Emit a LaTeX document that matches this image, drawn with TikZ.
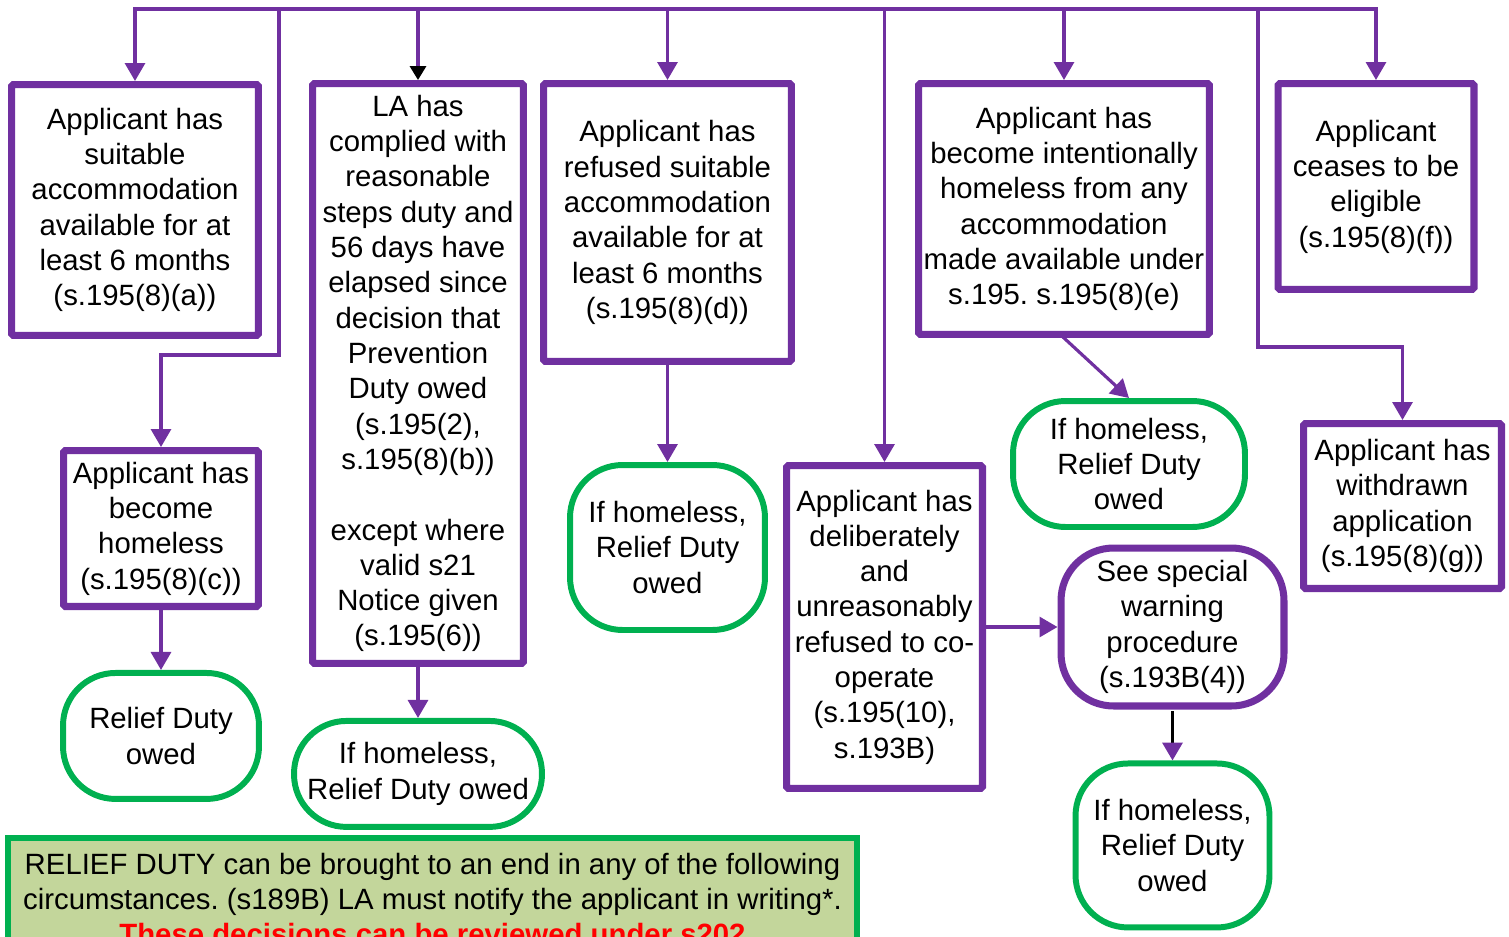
\documentclass[tikz,border=0pt]{standalone}
\usepackage{fontspec}
\setmainfont{Liberation Sans}
\usetikzlibrary{arrows.meta}
\usetikzlibrary{positioning}
\definecolor{rdpurple}{HTML}{7030A0}
\definecolor{rdgreen}{HTML}{00B050}
\definecolor{rdnote}{HTML}{C3D69B}
\newcommand{\caseboxcolor}[0]{rdpurple}
\newcommand{\outcomecolor}[0]{rdgreen}
\newcommand{\notecolor}[0]{rdnote}
\newcommand{\flowfont}[0]{\fontsize{16.7}{20.1}\selectfont}
\frenchspacing
\tikzset{
    casebox/.style={rectangle, draw=\caseboxcolor, line width=4pt, rounded corners=1pt,
        align=center, inner sep=0pt, font=\flowfont},
    outcome/.style={rectangle, draw=\outcomecolor, line width=3.4pt, rounded corners=1.05cm,
        align=center, inner sep=0pt, font=\flowfont},
    flow/.style={draw=\caseboxcolor, line width=1.8pt, line cap=rect,
        -{Triangle[length=0.36cm, width=0.4cm]}},
}

\begin{document}
\begin{tikzpicture}[x=0.02cm, y=-0.02cm]
    \useasboundingbox (0,0) rectangle (1509,937);
    \clip (0,0) rectangle (1509,937);
    % first row
    \node[casebox, minimum width=4.94cm, minimum height=5.02cm] (suitable) at (135,210)
        {Applicant has\\suitable\\accommodation\\available for at\\least 6 months\\(s.195(8)(a))};
    \node[casebox, minimum width=4.22cm, minimum height=11.6cm] (complied) at (418,373.5)
        {LA has\\complied with\\reasonable\\steps duty and\\56 days have\\elapsed since\\decision that\\Prevention\\Duty owed\\(s.195(2),\\s.195(8)(b))\\[20.1pt]except where\\valid s21\\Notice given\\(s.195(6))};
    \node[casebox, minimum width=4.96cm, minimum height=5.56cm] (refused) at (667.5,222.5)
        {Applicant has\\refused suitable\\accommodation\\available for at\\least 6 months\\(s.195(8)(d))};
    \node[casebox, minimum width=5.82cm, minimum height=5.02cm] (intentional) at (1064,209)
        {Applicant has\\become intentionally\\homeless from any\\accommodation\\made available under\\s.195. s.195(8)(e)};
    \node[casebox, minimum width=3.92cm, minimum height=4.12cm] (eligible) at (1376,186.5)
        {Applicant\\ceases to be\\eligible\\(s.195(8)(f))};
    % second row
    \node[casebox, minimum width=3.9cm, minimum height=3.12cm] (become) at (161,528.5)
        {Applicant has\\become\\homeless\\(s.195(8)(c))};
    \node[casebox, minimum width=3.92cm, minimum height=6.46cm] (noncoop) at (884.5,627)
        {Applicant has\\deliberately\\and\\unreasonably\\refused to co-\\operate\\(s.195(10),\\s.193B)};
    \node[casebox, minimum width=3.96cm, minimum height=3.3cm] (withdrawn) at (1402.5,506)
        {Applicant has\\withdrawn\\application\\(s.195(8)(g))};
    % outcomes
    \node[outcome, minimum width=3.92cm, minimum height=2.52cm, below=1.2cm of become]
        (become-end) {Relief Duty\\owed};
    \node[outcome, minimum width=4.96cm, minimum height=2.12cm, below=1.02cm of complied]
        (complied-end) {If homeless,\\Relief Duty owed};
    \node[outcome, minimum width=3.9cm, minimum height=3.3cm] (refused-end) at (667.5,547.5)
        {If homeless,\\Relief Duty\\owed};
    \node[outcome, minimum width=4.64cm, minimum height=2.52cm] (intentional-end) at (1129,464)
        {If homeless,\\Relief Duty\\owed};
    \node[outcome, draw=\caseboxcolor, line width=4pt, minimum width=4.46cm, minimum height=3.16cm]
        (warning) at (1172.5,627) {See special\\warning\\procedure\\(s.193B(4))};
    \node[outcome, minimum width=3.88cm, minimum height=3.28cm, below=1.02cm of warning]
        (warning-end) {If homeless,\\Relief Duty\\owed};
    % note
    \node[rectangle, draw=\outcomecolor, fill=\notecolor, line width=3.4pt, align=center,
        inner sep=0pt, font=\flowfont, minimum width=16.98cm, minimum height=2.44cm]
        (note) at (432.5,899)
        {RELIEF DUTY can be brought to an end in any of the following\\circumstances. (s189B) LA must notify the applicant in writing*.\\\textcolor{red}{\bfseries These decisions can be reviewed under s202}};
    % connectors
    \coordinate (bus-west) at (135,9);
    \coordinate (bus-east) at (eligible.north |- bus-west);
    \coordinate (tap-become) at (279,9);
    \coordinate (bend-become) at (279,355);
    \coordinate (tap-withdrawn) at (1258,9);
    \coordinate (bend-withdrawn) at (1258,347);
    \draw[flow] (bus-east) -- (bus-west) -- (suitable.north);
    \draw[flow] (bus-east) -- (eligible.north);
    \draw[flow, -{Triangle[length=0.28cm, width=0.32cm, black]}] (complied.north |- bus-west) -- (complied.north);
    \draw[flow] (refused.north |- bus-west) -- (refused.north);
    \draw[flow] (intentional.north |- bus-west) -- (intentional.north);
    \draw[flow] (noncoop.north |- bus-west) -- (noncoop.north);
    \draw[flow] (tap-become) -- (bend-become) -| (become.north);
    \draw[flow] (tap-withdrawn) -- (bend-withdrawn) -| (withdrawn.north);
    \draw[flow] (become.south) -- (become-end.north);
    \draw[flow] (complied.south) -- (complied-end.north);
    \draw[flow] (refused.south) -- (refused-end.north);
    \draw[flow] (intentional.south) -- (intentional-end.north);
    \draw[flow] (noncoop.east) -- (warning.west);
    \draw[flow, draw=black, line width=2pt, shorten <=2pt, -{Triangle[length=0.36cm, width=0.4cm, \caseboxcolor]}]
        (warning.south) -- (warning-end.north);
\end{tikzpicture}
\end{document}
